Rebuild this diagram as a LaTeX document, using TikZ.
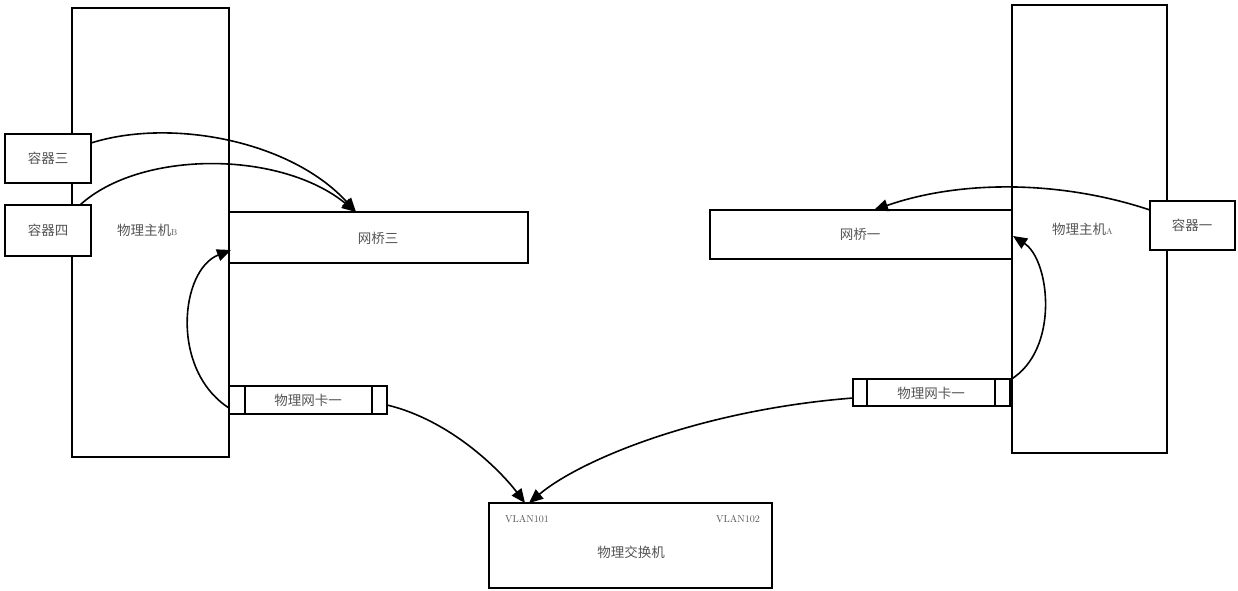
\documentclass[tikz,border=0pt]{standalone}
\usepackage{fontspec}
\newfontfamily\cjk{Noto Sans CJK SC}
\usetikzlibrary{arrows.meta}
\definecolor{txt}{HTML}{555555}
\begin{document}
\begin{tikzpicture}[x=1pt,y=-1pt,
  box/.style={draw=black,line width=2pt,fill=white},
  lbl/.style={text=txt,font=\cjk\fontsize{13.5}{13.5}\selectfont,inner sep=0pt},
  vl/.style={text=txt,font=\rmfamily\fontsize{10}{10}\selectfont,inner sep=0pt},
  arr/.style={line width=1.6pt,-{Triangle[length=14pt,width=12pt]}}]
\useasboundingbox (0,0) rectangle (1238,590);
% hosts
\draw[box] (72,8) rectangle (229,457);
\draw[box] (1012,5) rectangle (1167,453);
% containers
\draw[box] (5,134) rectangle (91,183);
\node[lbl] (c3) at (48,158) {容器三};
\coordinate (c3e) at (91,143);
\draw[box] (5,205) rectangle (91,256);
\node[lbl] (c4) at (48,230) {容器四};
\coordinate (c4t) at (80,205);
\draw[box] (1150,201) rectangle (1235,250);
\node[lbl] (c1) at (1192,225) {容器一};
\coordinate (c1w) at (1150,210);
% bridges
\draw[box] (229,212) rectangle (528,263);
\node[lbl] (br3) at (378,238) {网桥三};
\coordinate (br3t) at (356,212);
\coordinate (br3l) at (231,250);
\draw[box] (710,210) rectangle (1012,259);
\node[lbl] (br1) at (860,234) {网桥一};
\coordinate (br1t) at (874,210);
\coordinate (br1r) at (1013,236);
% host labels
\node[lbl,anchor=west] (hb) at (117,230) {物理主机{\fontsize{8.5}{8.5}\selectfont\rmfamily B}};
\node[lbl,anchor=west] (ha) at (1052,229) {物理主机{\fontsize{8.5}{8.5}\selectfont\rmfamily A}};
% NICs
\draw[box] (229,386) rectangle (387,414);
\draw[line width=1.8pt] (245,386) -- (245,414) (372,386) -- (372,414);
\node[lbl] (nb) at (308,400) {物理网卡一};
\coordinate (nbl) at (229,408);
\coordinate (nbr) at (387,405);
\draw[box] (853,379) rectangle (1010,406);
\draw[line width=1.8pt] (867,379) -- (867,406) (995,379) -- (995,406);
\node[lbl] (na) at (931,393) {物理网卡一};
\coordinate (nal) at (853,398);
\coordinate (nar) at (1010,380);
% switch
\draw[box] (489,503) rectangle (772,588);
\node[vl] (v1) at (527,519) {VLAN101};
\node[vl] (v2) at (738,519) {VLAN102};
\node[lbl] (sw) at (631,552) {物理交换机};
\coordinate (swa) at (525,503);
\coordinate (swb) at (529,503);
% arrows
\draw[arr] (c3e) .. controls (170,118) and (290,140) .. (br3t);
\draw[arr] (c4t) .. controls (140,150) and (280,150) .. (br3t);
\draw[arr] (nbl) .. controls (170,370) and (180,270) .. (br3l);
\draw[arr] (nbr) .. controls (450,420) and (500,470) .. (swa);
\draw[arr] (nal) .. controls (700,410) and (580,460) .. (swb);
\draw[arr] (nar) .. controls (1060,350) and (1050,260) .. (br1r);
\draw[arr] (c1w) .. controls (1060,180) and (960,180) .. (br1t);
\end{tikzpicture}
\end{document}
